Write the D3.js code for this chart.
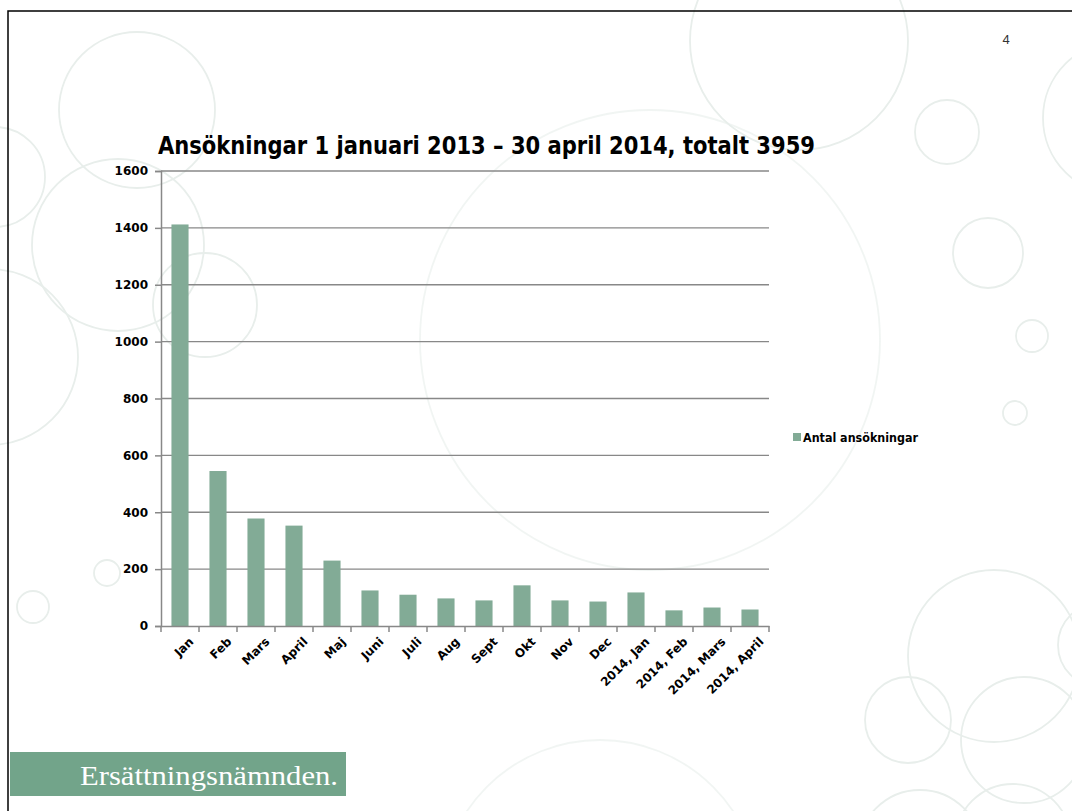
<!DOCTYPE html>
<html>
<head>
<meta charset="utf-8">
<script src="https://cdn.jsdelivr.net/npm/d3@7"></script>
<style>
  body { margin: 0; background: #fff; }
  svg { display: block; }
</style>
</head>
<body>
<div class="container"></div>
<script>
// data
var categories = ["Jan", "Feb", "Mars", "April", "Maj", "Juni", "Juli", "Aug", "Sept", "Okt",
  "Nov", "Dec", "2014, Jan", "2014, Feb", "2014, Mars", "2014, April"];
var applications = [1412, 545, 378, 353, 230, 125, 110, 97, 90, 143, 90, 86, 118, 55, 65, 58];
var yTicks = [0, 200, 400, 600, 800, 1000, 1200, 1400, 1600];
var seriesName = "Antal ansökningar";
var chartTitle = "Ansökningar 1 januari 2013 – 30 april 2014, totalt 3959";

const WIDTH = 1072;
const HEIGHT = 811;
const PLOT = {left: 161, right: 769, top: 171, bottom: 626};

const BAR_COLOR = "#82ab96";
const GRID_COLOR = "#888888";
const DECOR_COLOR = "#e8eeeb";

// faint background rings of the slide template: [cx, cy, r]
var rings = [[137, 110, 78], [-5, 177, 50], [118, 245, 86], [-10, 357, 88], [205, 305, 52],
  [799, 41, 109], [947, 132, 32], [988, 253, 35], [1120, 118, 77], [1032, 336, 16],
  [1015, 413, 12], [107, 573, 13], [33, 607, 16], [994, 656, 86],
  [908, 720, 43], [1024, 740, 63], [1100, 645, 42], [920, 852, 62], [1013, 842, 58],
  [650, 340, 230], [600, 900, 160]];

var svg = d3.select('.container').append('svg')
  .attr('width', WIDTH)
  .attr('height', HEIGHT);

svg.append('g').selectAll('circle')
  .data(rings)
  .enter().append('circle')
  .attr('cx', function(d){return d[0];})
  .attr('cy', function(d){return d[1];})
  .attr('r', function(d){return d[2];})
  .attr('fill', 'none')
  .attr('stroke', DECOR_COLOR)
  .attr('stroke-opacity', function(d){return d[2] > 150 ? 0.6 : 1;})
  .attr('stroke-width', 1.8);

// slide frame (top and left edge)
svg.append('path')
  .attr('d', 'M8,811 V11 H1072')
  .attr('fill', 'none')
  .attr('stroke', '#000')
  .attr('stroke-width', 1.5);

svg.append('text')
  .attr('x', 1006).attr('y', 44)
  .attr('text-anchor', 'middle')
  .style('font-family', 'Liberation Sans, Arial, sans-serif')
  .style('font-size', '13px')
  .attr('fill', '#333')
  .text('4');

var xScale = d3.scaleBand()
  .domain(categories)
  .range([PLOT.left, PLOT.right])
  .paddingInner(0.55)
  .paddingOuter(0.275);

var yScale = d3.scaleLinear()
  .domain([0, 1600])
  .range([PLOT.bottom, PLOT.top]);

// gridlines
svg.append('g').selectAll('line')
  .data(yTicks.filter(function(t){return t > 0;}))
  .enter().append('line')
  .attr('x1', PLOT.left).attr('x2', PLOT.right)
  .attr('y1', function(d){return yScale(d);})
  .attr('y2', function(d){return yScale(d);})
  .attr('stroke', GRID_COLOR)
  .attr('stroke-width', 1.3);

// bars
svg.append('g').selectAll('rect')
  .data(applications)
  .enter().append('rect')
  .attr('x', function(d, i){return xScale(categories[i]);})
  .attr('y', function(d){return yScale(d);})
  .attr('width', xScale.bandwidth())
  .attr('height', function(d){return yScale(0) - yScale(d);})
  .attr('fill', BAR_COLOR);

// y axis
var yAxis = d3.axisLeft(yScale).tickValues(yTicks).tickFormat(d3.format('d')).tickSize(6).tickPadding(7);
var yG = svg.append('g')
  .attr('transform', 'translate(' + PLOT.left + ',0)')
  .call(yAxis);
yG.select('.domain').attr('stroke', GRID_COLOR).attr('stroke-width', 1.5);
yG.selectAll('.tick line').attr('stroke', GRID_COLOR).attr('stroke-width', 1.5);
yG.selectAll('.tick text')
  .style('font-family', 'DejaVu Sans, sans-serif')
  .style('font-weight', 'bold')
  .style('font-size', '12px')
  .attr('fill', '#000');

// x axis with ticks between categories
var xAxis = d3.axisBottom(xScale).tickSize(0).tickFormat('');
var xG = svg.append('g')
  .attr('transform', 'translate(0,' + PLOT.bottom + ')')
  .call(xAxis);
xG.select('.domain').attr('stroke', GRID_COLOR).attr('stroke-width', 1.5);
xG.selectAll('line.sep')
  .data(d3.range(categories.length + 1))
  .enter().append('line')
  .attr('class', 'sep')
  .attr('x1', function(i){return PLOT.left + i * xScale.step();})
  .attr('x2', function(i){return PLOT.left + i * xScale.step();})
  .attr('y1', 0).attr('y2', 6)
  .attr('stroke', GRID_COLOR)
  .attr('stroke-width', 1.5);

svg.append('g').selectAll('text')
  .data(categories)
  .enter().append('text')
  .attr('transform', function(d){
    return 'translate(' + (xScale(d) + xScale.bandwidth() / 2 + 8) + ',' + (PLOT.bottom + 10) + ') rotate(-45)';
  })
  .attr('text-anchor', 'end')
  .attr('dy', '0.75em')
  .style('font-family', 'DejaVu Sans, sans-serif')
  .style('font-weight', 'bold')
  .style('font-size', '12px')
  .text(function(d){return d;});

// title
svg.append('text')
  .attr('x', 158).attr('y', 154)
  .attr('textLength', 657)
  .attr('lengthAdjust', 'spacingAndGlyphs')
  .style('font-family', 'Liberation Sans Narrow, DejaVu Sans Condensed, sans-serif')
  .style('font-weight', 'bold')
  .style('font-size', '25px')
  .text(chartTitle);

// legend
var legend = svg.append('g').attr('transform', 'translate(793,433)');
legend.append('rect').attr('width', 8).attr('height', 8).attr('fill', BAR_COLOR);
legend.append('text')
  .attr('x', 10).attr('y', 8.5)
  .attr('textLength', 115)
  .attr('lengthAdjust', 'spacingAndGlyphs')
  .style('font-family', 'DejaVu Sans, sans-serif')
  .style('font-weight', 'bold')
  .style('font-size', '11.5px')
  .text(seriesName);

// footer banner
svg.append('rect')
  .attr('x', 10).attr('y', 752)
  .attr('width', 336).attr('height', 44)
  .attr('fill', '#72a48a');
svg.append('text')
  .attr('x', 80).attr('y', 785)
  .attr('textLength', 258)
  .attr('lengthAdjust', 'spacingAndGlyphs')
  .attr('fill', '#fff')
  .style('font-family', 'Liberation Serif, DejaVu Serif, serif')
  .style('font-size', '28px')
  .text('Ersättningsnämnden.');
</script>
</body>
</html>
